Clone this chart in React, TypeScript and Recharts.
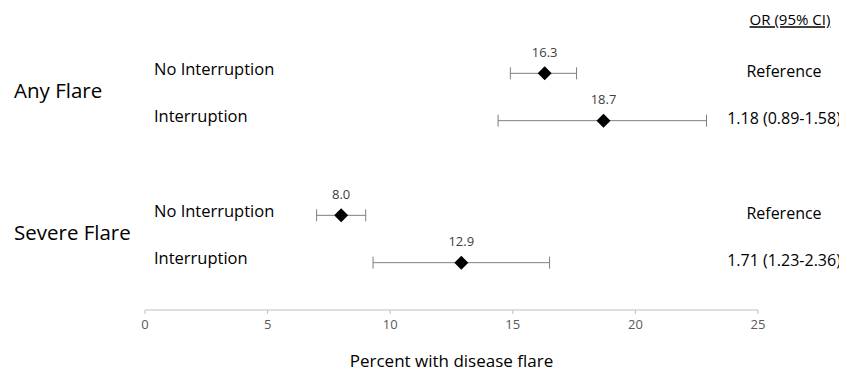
import React from 'react';
import { ScatterChart, Scatter, XAxis, YAxis, ErrorBar, LabelList } from 'recharts';

const groupLabels = ['Any Flare', 'Severe Flare'];
const groupPositions = [1.5, 4.5];
const rowLabels = ['No Interruption', 'Interruption', 'No Interruption', 'Interruption'];
const rowPositions = [1, 2, 4, 5];
const percents = [16.3, 18.7, 8.0, 12.9];
const lows = [14.9, 14.4, 7.0, 9.3];
const highs = [17.6, 22.9, 9.0, 16.5];
const orLabels = ['Reference', '1.18 (0.89-1.58)', 'Reference', '1.71 (1.23-2.36)'];
const orHeader = 'OR (95% CI)';
const xTicks = [0, 5, 10, 15, 20, 25];

const data = percents.map((p, i) => ({
  x: p,
  y: rowPositions[i],
  err: [p - lows[i], highs[i] - p],
  label: p.toFixed(1),
}));

const FONT = '"Open Sans", sans-serif';

const Diamond = (props: any) => {
  const { cx, cy } = props;
  const r = 7;
  return <path d={`M${cx},${cy - r}L${cx + r},${cy}L${cx},${cy + r}L${cx - r},${cy}Z`} fill="#000" />;
};

const renderLeftTick = (props: any) => {
  const { y, payload, index } = props;
  const v = Number(payload.value);
  if (v === 0) {
    return (
      <text key={`l${index}`} x={782} y={y - 6} dy="0.35em" textAnchor="middle" fontSize={15} fill="#000" fontFamily={FONT} textDecoration="underline">
        {orHeader}
      </text>
    );
  }
  const gi = groupPositions.indexOf(v);
  if (gi >= 0) {
    return (
      <text key={`l${index}`} x={6} y={y - 6} dy="0.35em" fontSize={20.5} fill="#000" fontFamily={FONT}>
        {groupLabels[gi]}
      </text>
    );
  }
  const ri = rowPositions.indexOf(v);
  if (ri >= 0) {
    return (
      <g key={`l${index}`}>
        <text x={146} y={y - 4} dy="0.35em" fontSize={16.5} fill="#000" fontFamily={FONT}>
          {rowLabels[ri]}
        </text>
        <text x={776} y={y - 2} dy="0.35em" textAnchor="middle" fontSize={16} fill="#000" fontFamily={FONT}>
          {orLabels[ri]}
        </text>
      </g>
    );
  }
  return <g key={`l${index}`} />;
};

export default function App() {
  return (
    <ScatterChart width={847} height={371} margin={{ top: 18, right: 97, bottom: 0, left: 136 }}>
      <XAxis
        type="number"
        dataKey="x"
        domain={[0, 25]}
        ticks={xTicks}
        height={69}
        tickSize={4}
        tickMargin={6}
        stroke="#bfbfbf"
        tick={{ fill: '#595959', fontSize: 13, fontFamily: FONT }}
        label={{ value: 'Percent with disease flare', position: 'insideBottom', offset: 12, fill: '#000', fontSize: 17, fontFamily: FONT }}
      />
      <YAxis
        yAxisId="left"
        type="number"
        dataKey="y"
        domain={[0, 6]}
        reversed
        width={1}
        axisLine={false}
        tickLine={false}
        ticks={[0, 1, 1.5, 2, 4, 4.5, 5]}
        interval={0}
        tick={renderLeftTick}
      />
      <Scatter yAxisId="left" data={data} shape={<Diamond />} isAnimationActive={false}>
        <ErrorBar dataKey="err" direction="x" width={6} stroke="#7f7f7f" strokeWidth={1} />
        <LabelList dataKey="label" position="top" offset={12} fill="#404040" fontSize={13} fontFamily={FONT} />
      </Scatter>
    </ScatterChart>
  );
}
